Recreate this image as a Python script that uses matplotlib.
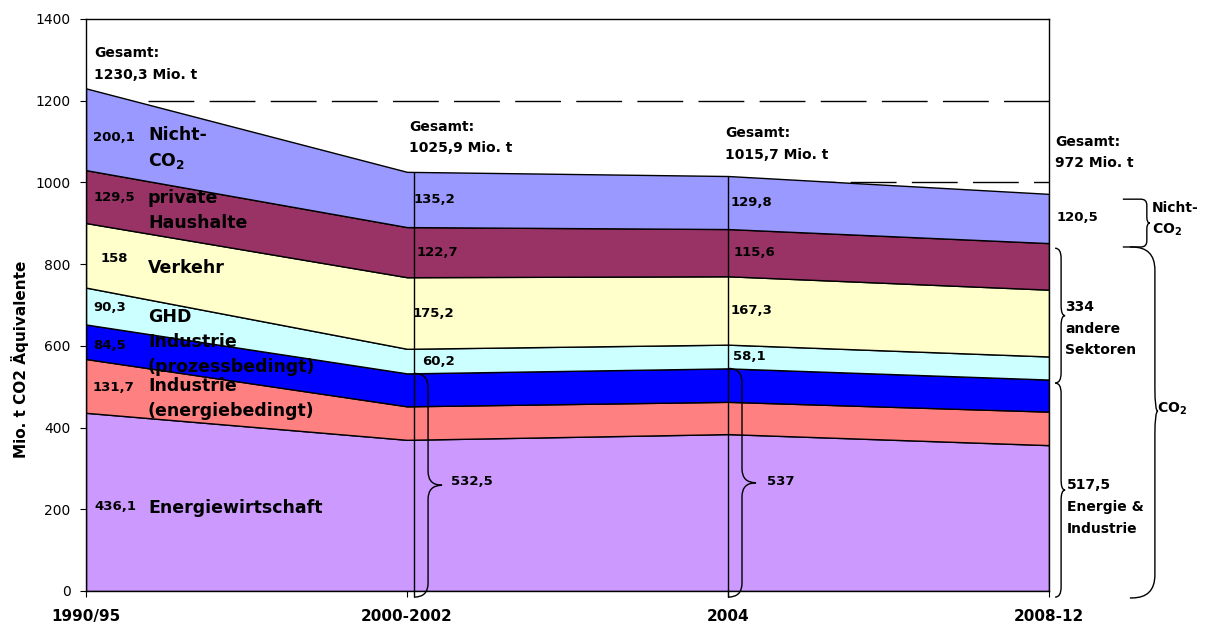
import matplotlib
matplotlib.use('Agg')
import matplotlib.pyplot as plt
from matplotlib.path import Path
from matplotlib.patches import PathPatch
import numpy as np

plt.rcParams['font.family'] = ['DejaVu Sans']
plt.rcParams['mathtext.fontset'] = 'dejavusans'

# ── Daten (Mio. t CO2-Äquivalente) ──
periods = ['1990/95', '2000-2002', '2004', '2008-12']
energiewirtschaft = [436.1, 370.0, 384.0, 357.0]
industrie_energie = [131.7, 82.0, 79.0, 82.0]
industrie_prozess = [84.5, 80.6, 81.9, 78.5]
ghd = [90.3, 60.2, 58.1, 56.5]
verkehr = [158.0, 175.2, 167.3, 163.5]
haushalte = [129.5, 122.7, 115.6, 114.0]
nicht_co2 = [200.1, 135.2, 129.8, 120.5]

gesamt = ['1230,3', '1025,9', '1015,7', '972']
summe_energie_industrie = ['532,5', '537']
rechts_werte = ['517,5', '334', '120,5']

sektoren = ['Energiewirtschaft', 'Industrie\n(energiebedingt)', 'Industrie\n(prozessbedingt)',
            'GHD', 'Verkehr', 'private\nHaushalte', 'Nicht-\nCO$_\\mathbf{2}$']
farben = ['#CC99FF', '#FF8080', '#0000FF', '#CCFFFF', '#FFFFCC', '#993366', '#9999FF']

# ── Layout (Pixel der Vorlage) ──
W, H = 1206, 626
L, R, B, T = 86, 1049, 591, 19

fig = plt.figure(figsize=(W / 100, H / 100), dpi=100)
ax = fig.add_axes([L / W, (H - B) / H, (R - L) / W, (B - T) / H])
SX = 3 / (R - L)       # Datenbreite je Pixel
SY = 1400 / (B - T)    # Datenhöhe je Pixel


def fmt(v):
    return ('%g' % v).replace('.', ',')


def brace(x0, y0, y1, w, r, t, ym=None):
    """geschweifte Klammer '}' an x0 von y0 bis y1 (w, r, t in Pixel)"""
    if ym is None:
        ym = (y0 + y1) / 2
    xm = x0 + w * SX
    rx = min(w, r) * SX
    ry = r * SY
    tip = xm + t * SX
    verts = [(x0, y1), (xm - rx, y1), (xm, y1), (xm, y1 - ry),
             (xm, ym + ry), (xm, ym), (tip, ym),
             (xm, ym), (xm, ym - ry),
             (xm, y0 + ry), (xm, y0), (xm - rx, y0), (x0, y0)]
    codes = [Path.MOVETO, Path.LINETO, Path.CURVE3, Path.CURVE3,
             Path.LINETO, Path.CURVE3, Path.CURVE3,
             Path.CURVE3, Path.CURVE3,
             Path.LINETO, Path.CURVE3, Path.CURVE3, Path.LINETO]
    ax.add_patch(PathPatch(Path(verts, codes), fill=False, edgecolor='black',
                           lw=1.0, clip_on=False, zorder=4))


x = np.arange(len(periods))
layers = np.vstack([energiewirtschaft, industrie_energie, industrie_prozess,
                    ghd, verkehr, haushalte, nicht_co2])
cum = layers.cumsum(axis=0)

ax.stackplot(x, layers, colors=farben, edgecolor='black', linewidth=1.0, zorder=2)

# Referenzlinien 1200 / 1000
ax.plot([0.193, 3], [1200, 1200], color='black', lw=1, ls=(0, (33, 11)), zorder=1)
ax.plot([2.0, 3], [1000, 1000], color='black', lw=1, ls=(0, (33, 11)), zorder=1)

# senkrechte Linien bei 2000-2002 und 2004
ax.vlines([1.022, 2.0], -15, [cum[-1, 1], cum[-1, 2]], color='black', lw=1,
          clip_on=False, zorder=3)

ax.set_xlim(0, 3)
ax.set_ylim(0, 1400)
ax.set_xticks(x)
ax.set_xticklabels(periods, fontweight='bold', fontsize=11)
ax.set_yticks(range(0, 1401, 200))
ax.tick_params(direction='out', length=4, width=0.8)
ax.tick_params(axis='y', pad=7, labelsize=10)
ax.tick_params(axis='x', pad=9)
for s in ax.spines.values():
    s.set_linewidth(1.0)
    s.set_zorder(5)

fig.text(20 / W, 1 - 359 / H, 'Mio. t CO2 Äquivalente', rotation=90,
         fontsize=11, fontweight='bold', ha='center', va='center')

# Gesamt-Beschriftungen
gesamt_pos = [(0.025, 1290), (1.006, 1110), (1.99, 1094), (3.019, 1073)]
for (gx, gy), g in zip(gesamt_pos, gesamt):
    ax.text(gx, gy, 'Gesamt:\n%s Mio. t' % g, fontsize=10, fontweight='bold',
            ha='left', va='center', linespacing=1.7, zorder=6)

# 1990/95: Werte und Sektorennamen
wert_pos = [(0.025, 206), (0.019, 497), (0.022, 600), (0.022, 695),
            (0.044, 815), (0.025, 962), (0.022, 1111)]
name_y = [203, 472, 580, 671, 791, 931, 1083]
for i in range(layers.shape[0]):
    ax.text(*wert_pos[i], fmt(layers[i, 0]), fontsize=9.5, fontweight='bold',
            ha='left', va='center', zorder=6)
    ax.text(0.193, name_y[i], sektoren[i], fontsize=12.5, fontweight='bold',
            ha='left', va='center', linespacing=1.5, zorder=6)

# 2000-2002 und 2004: Werte der oberen Sektoren
mitte = cum - layers / 2
x_off = {1: [1.047, 1.016, 1.03, 1.02], 2: [2.016, 2.009, 2.016, 2.009]}
for j in (1, 2):
    for k, i in enumerate(range(3, 7)):
        ax.text(x_off[j][k], mitte[i, j], fmt(layers[i, j]), fontsize=9.5,
                fontweight='bold', ha='left', va='center', zorder=6)

# Klammern Energie & Industrie bei 2000-2002 und 2004
brace(1.022, -15, cum[2, 1], 14, 14, 14)
brace(2.0, -15, cum[2, 2], 14, 14, 14)
ax.text(1.137, 267, summe_energie_industrie[0], fontsize=9.5, fontweight='bold',
        ha='left', va='center')
ax.text(2.121, 269, summe_energie_industrie[1], fontsize=9.5, fontweight='bold',
        ha='left', va='center')

# rechte Seite
ax.text(3.025, 913, rechts_werte[2], fontsize=9.5, fontweight='bold',
        ha='left', va='center')
brace(3.23, 842, 959, 24, 6, 3)
ax.text(3.321, 909, 'Nicht-\nCO$_\\mathbf{2}$', fontsize=10, fontweight='bold',
        ha='left', va='center', linespacing=1.6)
brace(3.019, 509, 839, 6, 10, 4)
ax.text(3.05, 642, '%s\nandere\nSektoren' % rechts_werte[1], fontsize=10,
        fontweight='bold', ha='left', va='center', linespacing=1.7)
brace(3.019, -15, 509, 6, 10, 4)
ax.text(3.056, 206, '%s\nEnergie &\nIndustrie' % rechts_werte[0], fontsize=10,
        fontweight='bold', ha='left', va='center', linespacing=1.7)
brace(3.252, -17, 842, 25, 23, 3, ym=440)
ax.text(3.336, 445, 'CO$_\\mathbf{2}$', fontsize=10, fontweight='bold',
        ha='left', va='center')

fig.savefig('out.png', dpi=100, facecolor='white')
